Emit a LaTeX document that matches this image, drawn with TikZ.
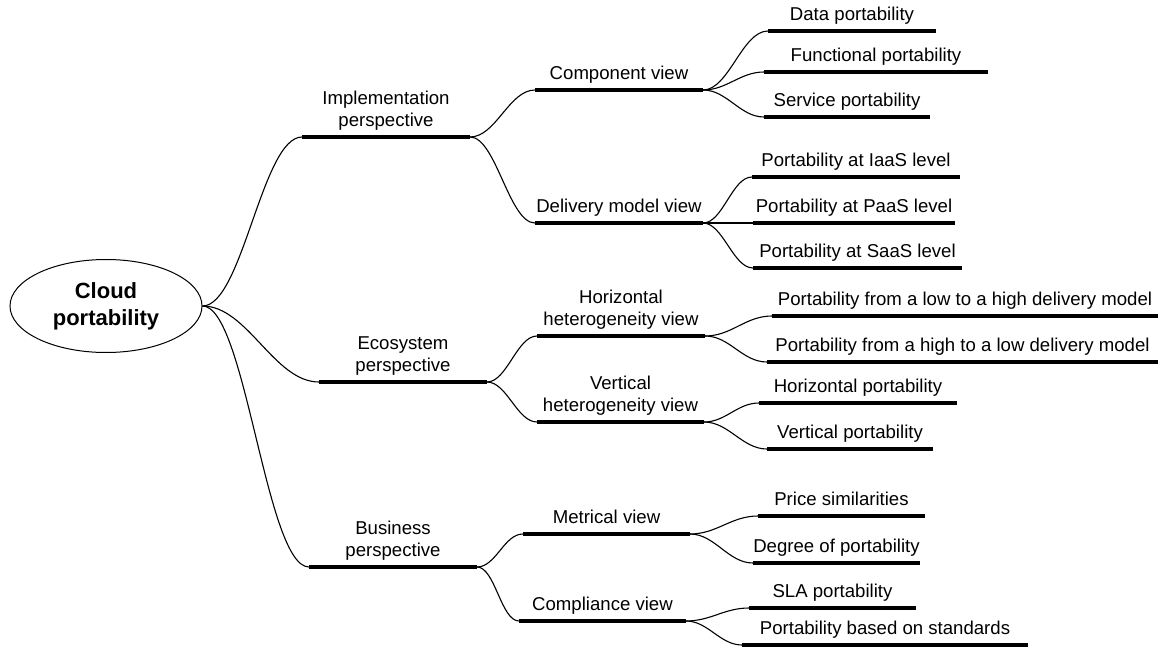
\documentclass[tikz,border=0pt]{standalone}
\usepackage{fontspec}
\setmainfont{Liberation Sans}
\usetikzlibrary{shapes.geometric}

\begin{document}
\begin{tikzpicture}[
    x=0.5pt, y=-0.5pt, % pixel grid of the picture
    font=\fontsize{9.3}{11}\selectfont
  ]

  \tikzset{
    root/.style={draw, ellipse, line width=0.5pt, minimum width=96pt, minimum height=46.5pt, inner sep=0pt, align=center, font=\fontsize{11}{13.5}\selectfont\bfseries},
    bar/.style={line width=2.3pt},
    tag/.style={above=4pt, inner sep=0pt, text depth=0pt, align=center},
    link/.style={line width=0.55pt}
  }

  \useasboundingbox (0,0) rectangle (1158,648);

  % Central topic
  \node (cloud) [root] at (106,306) {Cloud\\portability};

  % Branches: name / left x / right x / y / text
  \foreach \name/\xa/\xb/\y/\txt in {
      impl/302/470/137/{Implementation\\perspective},
      eco/319/487/382/{Ecosystem\\perspective},
      bus/309/477/567/{Business\\perspective},
      comp/535/703/90/{Component view},
      deliv/535/703/223/{Delivery model view},
      hhet/537/705/336/{Horizontal\\heterogeneity view},
      vhet/537/704/422/{Vertical\\heterogeneity view},
      metr/523/690/534/{Metrical view},
      compl/519/686/621/{Compliance view},
      data/768/936/31/{Data portability},
      func/764/988/72/{Functional portability},
      serv/764/930/117/{Service portability},
      iaas/752/960/177/{Portability at IaaS level},
      paas/753/955/223/{Portability at PaaS level},
      saas/753/962/268/{Portability at SaaS level},
      low/772/1158/316/{Portability from a low to a high delivery model},
      high/767/1158/362/{Portability from a high to a low delivery model},
      hport/759/957/403/{Horizontal portability},
      vport/767/933/449/{Vertical portability},
      price/758/925/516/{Price similarities},
      degree/753/920/563/{Degree of portability},
      sla/749/916/608/{SLA portability},
      std/742/1028/645/{Portability based on standards}}
  {
    \coordinate (\name-w) at (\xa,\y);
    \coordinate (\name-e) at (\xb,\y);
    \draw[bar] (\name-w) -- node[tag] (\name) {\txt} (\name-e);
  }

  % Curved connectors: from / to / handle length
  \foreach \a/\b/\d in {
      cloud.east/impl-w/40, cloud.east/eco-w/45, cloud.east/bus-w/43,
      impl-e/comp-w/26, impl-e/deliv-w/26,
      eco-e/hhet-w/20, eco-e/vhet-w/20,
      bus-e/metr-w/19, bus-e/compl-w/18,
      comp-e/data-w/26, comp-e/func-w/24, comp-e/serv-w/24,
      deliv-e/iaas-w/20, deliv-e/paas-w/20, deliv-e/saas-w/20,
      hhet-e/low-w/27, hhet-e/high-w/25,
      vhet-e/hport-w/22, vhet-e/vport-w/25,
      metr-e/price-w/27, metr-e/degree-w/25,
      compl-e/sla-w/25, compl-e/std-w/22}
    \draw[link] (\a) .. controls +(\d,0) and +(-\d,0) .. (\b);

\end{tikzpicture}
\end{document}
